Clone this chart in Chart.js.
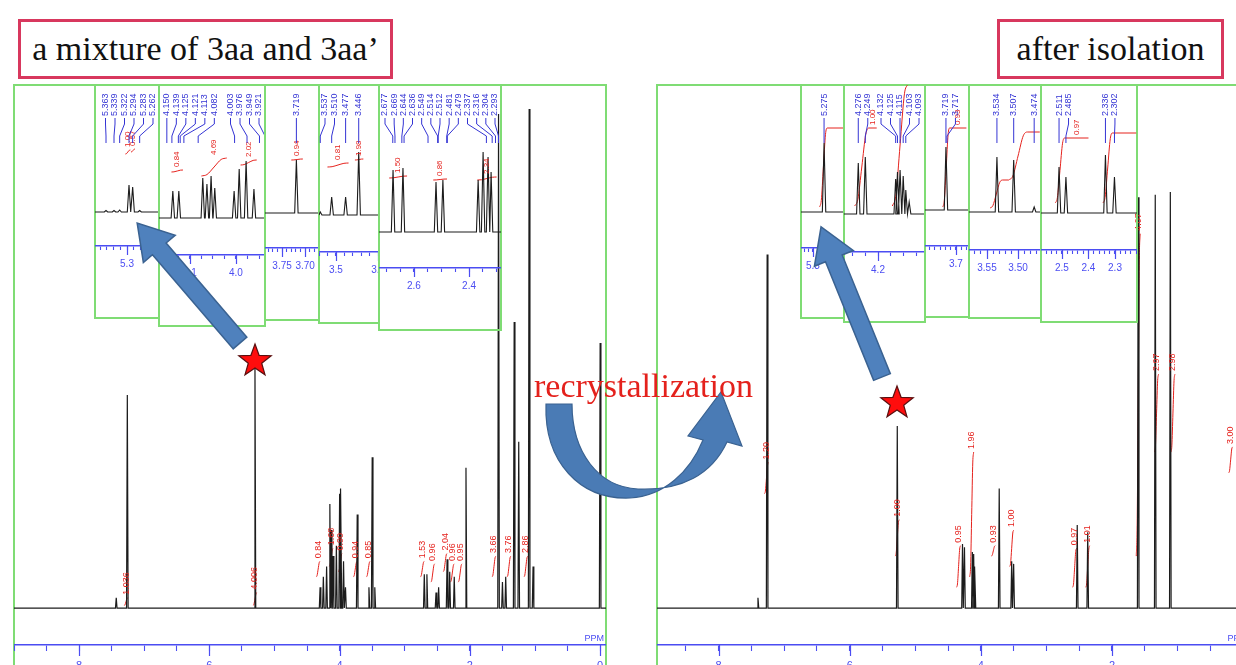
<!DOCTYPE html>
<html><head><meta charset="utf-8">
<script src="https://cdn.jsdelivr.net/npm/chart.js@4.4.1/dist/chart.umd.min.js"></script>
<style>
html,body{margin:0;padding:0;width:1236px;height:665px;overflow:hidden;background:#fff;position:relative;}
.abs{position:absolute;}
.frame{position:absolute;border:2px solid #7fdc74;box-sizing:border-box;}
.title{position:absolute;border:3px solid #d8385e;box-sizing:border-box;font-family:"Liberation Serif","DejaVu Serif",serif;font-size:34px;color:#111;display:flex;align-items:center;justify-content:center;background:#fff;white-space:nowrap;}
#recr{position:absolute;left:534px;top:369px;font-family:"Liberation Serif","DejaVu Serif",serif;font-size:34px;line-height:34px;color:#e4211c;white-space:nowrap;}
</style></head>
<body>
<script>
// ================= DATA =================
// Left spectrum (mixture of 3aa and 3aa'): peak positions (ppm) and relative heights
const leftPeakPpm    = [7.43, 7.26, 5.30, 4.30, 4.25, 4.20, 4.15, 4.13, 4.10, 4.05, 4.00, 3.98, 3.94, 3.91, 3.73, 3.55, 3.50, 3.46, 2.70, 2.66, 2.52, 2.48, 2.35, 2.31, 2.24, 2.06, 1.56, 1.50, 1.45, 1.32, 1.25, 1.09, 1.03, 0.00];
const leftPeakHeight = [2, 41, 47, 4, 6, 8, 20, 15, 10, 12, 22, 23, 9, 4, 18, 4, 29, 4, 6.5, 6.5, 3, 4, 9.4, 7, 6, 27, 95, 5, 6, 55, 32, 96, 8, 51];
// Left spectrum integrals
const leftIntPpm   = [7.28, 5.30, 4.33, 4.13, 3.99, 3.76, 3.56, 2.73, 2.57, 2.38, 2.27, 2.15, 1.63, 1.40, 1.14];
const leftIntLow   = [0.5, 0.5, 6, 8, 7, 6, 6, 6, 5, 7, 5, 5, 6, 6, 6];
const leftIntHigh  = [2, 3, 9, 11.5, 10.5, 9, 9, 9, 8.5, 10.5, 8.5, 8.5, 10, 10, 10];
const leftIntText  = ["1.036", "4.006", "0.84", "1.68", "0.90", "0.94", "0.85", "1.53", "0.96", "2.04", "0.96", "0.95", "3.66", "3.76", "2.86"];

// Right spectrum (after isolation)
const rightPeakPpm    = [7.40, 7.26, 5.275, 4.28, 4.25, 4.13, 4.11, 4.09, 3.72, 3.53, 3.50, 2.53, 2.37, 1.60, 1.34, 1.11];
const rightPeakHeight = [2, 68, 35, 12.3, 11.7, 10.8, 10.4, 8, 23, 9, 8.5, 16, 14.6, 79, 79.5, 80];
const rightIntPpm   = [7.27, 5.275, 4.34, 4.14, 3.81, 3.53, 2.57, 2.37, 1.60, 1.32, 1.07, 0.19];
const rightIntLow   = [22, 10, 4, 6, 10, 8, 4, 4, 10, 30, 30, 26];
const rightIntHigh  = [28, 17, 12, 30, 12, 15, 11.5, 12, 72, 45, 45, 31];
const rightIntText  = ["1.20", "1.00", "0.95", "1.96", "0.93", "1.00", "0.97", "1.01", "4.07", "2.97", "2.98", "3.00"];

// Insets: peaks [ppm, height], peak labels, integrals [from, to, low, high, label, flatTo]
const L1_peaks = [[5.363,1.5],[5.339,1.5],[5.322,2],[5.294,27],[5.283,25],[5.262,1.5]];
const L2_peaks = [[4.137,27],[4.124,27],[4.072,40],[4.063,34],[4.054,42],[4.046,30],[4.004,27],[3.993,49],[3.978,57],[3.961,29]];
const L3_peaks = [[3.719,53]];
const L4_peaks = [[3.537,3],[3.510,18],[3.477,18],[3.446,63]];
const L5_peaks = [[2.676,62],[2.640,64],[2.520,50],[2.495,52],[2.367,52],[2.349,80],[2.331,75],[2.320,60]];
const R1_peaks = [[5.275,69]];
const R2_peaks = [[4.276,51],[4.249,57],[4.132,35],[4.125,42],[4.115,44],[4.103,38],[4.093,24],[4.080,12]];
const R3_peaks = [[3.719,63]];
const R4_peaks = [[3.534,55],[3.507,52],[3.474,5]];
const R5_peaks = [[2.511,46],[2.485,36],[2.336,58],[2.302,36]];

const L1_labels = ["5.363","5.339","5.322","5.294","5.283","5.262"];
const L2_labels = ["4.150","4.139","4.125","4.121","4.113","4.082","4.003","3.976","3.949","3.921"];
const L3_labels = ["3.719"];
const L4_labels = ["3.537","3.510","3.477","3.446"];
const L5_labels = ["2.677","2.669","2.644","2.636","2.549","2.514","2.512","2.481","2.479","2.337","2.316","2.304","2.293"];
const R1_labels = ["5.275"];
const R2_labels = ["4.276","4.249","4.132","4.125","4.115","4.103","4.093"];
const R3_labels = ["3.719","3.717"];
const R4_labels = ["3.534","3.507","3.474"];
const R5_labels = ["2.511","2.485","2.336","2.302"];

const L1_int = [[5.305,5.290,58,62,"1.00",null],[5.288,5.276,60,63,"0.57",null]];
const L2_int = [[4.140,4.115,46,48,"0.84",null],[4.075,4.020,42,60,"4.69",null],[3.990,3.955,53,58,"2.02",null]];
const L3_int = [[3.730,3.705,53,54,"0.94",null]];
const L4_int = [[3.520,3.470,48,52,"0.81",null],[3.455,3.435,55,56,"1.98",null]];
const L5_int = [[2.690,2.625,54,56,"1.50",null],[2.530,2.480,52,53,"0.86",null],[2.370,2.300,52,55,"2.34",null]];
const R1_int = [[5.285,5.268,5,84,"",5.232]];
const R2_int = [[4.290,4.235,8,86,"1.00",4.205],[4.145,4.085,8,130,"",null]];
const R3_int = [[3.725,3.712,3,82,"0.93",3.680]];
const R4_int = [[3.545,3.525,4,32,"",3.515],[3.515,3.485,32,80,"",3.465]];
const R5_int = [[2.525,2.490,10,75,"0.97",2.400],[2.345,2.310,10,80,"",2.220]];

// ================= STYLE / LAYOUT =================
const BLUE = '#3434d4', AXIS_BLUE = '#4b4df2', RED = '#e5221d', GREEN = '#7fdc74', TRACE = '#1c1c1c';
const TOP = 85;
Chart.defaults.font.family = '"Liberation Sans", Arial, sans-serif';

const leftInsetBoxes = [
  {x0:94, x1:158, bottom:318, axis:246, base:212, hi:5.396, lo:5.204, minor:0.02, major:0.1},
  {x0:158,x1:264, bottom:326, axis:255, base:218, hi:4.167, lo:3.937, minor:0.025, major:0.1},
  {x0:264,x1:318, bottom:320, axis:248, base:213, hi:3.787, lo:3.670, minor:0.01, major:0.05},
  {x0:318,x1:378, bottom:323, axis:252, base:215, hi:3.540, lo:3.398, minor:0.02, major:0.1},
  {x0:378,x1:500, bottom:330, axis:268, base:232, hi:2.727, lo:2.284, minor:0.05, major:0.2}];
const rightInsetBoxes = [
  {x0:800, x1:843, bottom:318, axis:248, base:212, hi:5.327, lo:5.230, minor:0.01, major:0.1},
  {x0:843, x1:924, bottom:322, axis:252, base:214, hi:4.331, lo:4.019, minor:0.05, major:0.2},
  {x0:924, x1:968, bottom:317, axis:246, base:210, hi:3.759, lo:3.675, minor:0.01, major:0.1},
  {x0:968, x1:1040,bottom:318, axis:250, base:212, hi:3.579, lo:3.463, minor:0.01, major:0.05},
  {x0:1040,x1:1136,bottom:322, axis:250, base:213, hi:2.579, lo:2.217, minor:0.02, major:0.1}];

function isMult(v, m){ const r = v/m; return Math.abs(r - Math.round(r)) < 1e-6; }
function tickValues(lo, hi, step){ const out=[]; const s=Math.ceil(lo/step-1e-9), e=Math.floor(hi/step+1e-9); for(let k=s;k<=e;k++) out.push(+(k*step).toFixed(6)); return out; }
function decimalsFor(m){ return m < 0.1 - 1e-9 ? 2 : 1; }

function spectrumPoints(ppms, hs, w, xmin, xmax){
  const idx = ppms.map((p,i)=>i).sort((a,b)=>ppms[b]-ppms[a]);
  const pts=[{x:xmax,y:0}];
  idx.forEach(i=>{ pts.push({x:ppms[i]+w,y:0},{x:ppms[i],y:hs[i]},{x:ppms[i]-w,y:0}); });
  pts.push({x:xmin,y:0});
  return pts;
}
function integralPoints(from,to,low,high,flatTo){
  const d=from-to, r=high-low;
  const pts=[{x:from,y:low},{x:from-0.22*d,y:low+0.08*r},{x:from-0.5*d,y:low+0.5*r},{x:to+0.22*d,y:high-0.08*r},{x:to,y:high}];
  if(flatTo!=null) pts.push({x:flatTo,y:high});
  return pts;
}

const extras = {
  id:'extras',
  afterDraw(chart, args, o){
    const ctx=chart.ctx, ca=chart.chartArea, xs=chart.scales.x, ys=chart.scales.y;
    ctx.save();
    ctx.strokeStyle=AXIS_BLUE; ctx.lineWidth=1.2;
    xs.ticks.forEach(t=>{ if(isMult(t.value,o.major)){ const px=Math.round(xs.getPixelForValue(t.value))+0.5; ctx.beginPath(); ctx.moveTo(px,ca.bottom); ctx.lineTo(px,ca.bottom+o.majorLen); ctx.stroke(); }});
    if(o.ppm){ ctx.fillStyle=AXIS_BLUE; ctx.font='9px "Liberation Sans"'; ctx.textAlign='right'; ctx.textBaseline='bottom'; ctx.fillText('PPM', ca.right-2, ca.bottom-2); }
    ctx.fillStyle=RED; ctx.font=o.intFont;
    (o.intLabels||[]).forEach(l=>{
      const px=xs.getPixelForValue(l.v), py=ys.getPixelForValue(l.h)-3;
      ctx.save(); ctx.translate(px,py); ctx.rotate(-Math.PI/2); ctx.textAlign='left'; ctx.textBaseline='middle'; ctx.fillText(l.t,0,0); ctx.restore();
    });
    if(o.peakLabels && o.peakLabels.length){
      const L=o.peakLabels.map(t=>({t, v:parseFloat(t)}));
      L.forEach(l=>{ l.px=xs.getPixelForValue(Math.min(Math.max(l.v,xs.min),xs.max)); l.lx=l.px; });
      L.sort((a,b)=>a.px-b.px);
      const left=ca.left+6, right=ca.right-6;
      const gap = L.length>1 ? Math.min(9.5,(right-left)/(L.length-1)) : 9.5;
      for(let i=0;i<L.length;i++) L[i].lx=Math.max(L[i].lx, i?L[i-1].lx+gap:left);
      if(L[L.length-1].lx>right){ L[L.length-1].lx=right; for(let i=L.length-2;i>=0;i--) L[i].lx=Math.min(L[i].lx,L[i+1].lx-gap); }
      ctx.font='9px "Liberation Sans"'; ctx.fillStyle=BLUE; ctx.strokeStyle=BLUE; ctx.lineWidth=1;
      const b=o.labelBottom;
      L.forEach(l=>{
        ctx.save(); ctx.translate(l.lx,b); ctx.rotate(-Math.PI/2); ctx.textAlign='left'; ctx.textBaseline='middle'; ctx.fillText(l.t,0,0); ctx.restore();
        ctx.beginPath(); ctx.moveTo(l.lx,b+2); ctx.lineTo(l.lx,b+8); ctx.lineTo(l.px,b+20); ctx.lineTo(l.px,b+27); ctx.stroke();
      });
    }
    ctx.restore();
  }
};

function buildChart(canvas, g){
  return new Chart(canvas, {
    type:'line',
    data:{datasets:g.datasets},
    options:{
      responsive:false, animation:false, events:[], devicePixelRatio:1,
      layout:{padding:0},
      plugins:{legend:{display:false}, tooltip:{enabled:false}, extras:g.extras},
      scales:{
        x:{type:'linear', reverse:true, min:g.min, max:g.max,
           afterBuildTicks:s=>{ s.ticks=tickValues(g.min,g.max,g.minor).map(v=>({value:v})); },
           afterFit:s=>{ s.height=g.axisH; },
           ticks:{autoSkip:false, maxRotation:0, minRotation:0, includeBounds:false, color:AXIS_BLUE, padding:g.pad, font:{size:g.fontSize},
                  callback:v=> isMult(v,g.major) ? (g.fmt ? g.fmt(v) : Number(v).toFixed(decimalsFor(g.major))) : ''},
           grid:{display:true, drawOnChartArea:false, drawTicks:true, tickLength:g.minorLen, color:AXIS_BLUE, tickColor:AXIS_BLUE, tickWidth:1.1},
           border:{display:true, color:AXIS_BLUE, width:1.6}},
        y:{display:false, min:g.ymin, max:g.ymax}
      }
    },
    plugins:[extras]
  });
}

function addEl(tag, cls, style){ const e=document.createElement(tag); if(cls) e.className=cls; Object.assign(e.style,style||{}); document.body.appendChild(e); return e; }

addEl('div','frame',{left:'13px',top:(TOP-1)+'px',width:'594px',height:'700px'});
addEl('div','frame',{left:'656px',top:(TOP-1)+'px',width:'700px',height:'700px'});

function mainSpectrum(left, xmax, ppms, hs, iP, iLo, iHi, iTxt){
  const W=592, H=600, xmin=-0.09;
  const cv=addEl('canvas','abs',{left:left+'px',top:TOP+'px'}); cv.width=W; cv.height=H;
  const ds=[{data:spectrumPoints(ppms,hs,0.012,xmin,xmax), borderColor:TRACE, borderWidth:1.2, pointRadius:0, tension:0, fill:false}];
  iP.forEach((p,i)=>ds.push({data:integralPoints(p+0.03,p-0.03,iLo[i],iHi[i],null), borderColor:RED, borderWidth:1, pointRadius:0, cubicInterpolationMode:'monotone', fill:false}));
  buildChart(cv,{datasets:ds, min:xmin, max:xmax, minor:0.5, major:2, axisH:40, ymin:-7.1, ymax:100.6, pad:8, fontSize:11, minorLen:6, fmt:v=>String(Math.round(v)),
    extras:{major:2, majorLen:11, ppm:true, intFont:'9px "Liberation Sans"', intLabels:iP.map((p,i)=>({t:iTxt[i], v:p, h:iHi[i]}))}});
}
mainSpectrum(14, 9.0, leftPeakPpm, leftPeakHeight, leftIntPpm, leftIntLow, leftIntHigh, leftIntText);
mainSpectrum(657, 8.94, rightPeakPpm, rightPeakHeight, rightIntPpm, rightIntLow, rightIntHigh, rightIntText);

function inset(box, peaks, labels, integrals){
  addEl('div','frame',{left:box.x0+'px',top:(TOP-1)+'px',width:(box.x1-box.x0+2)+'px',height:(box.bottom-TOP+2)+'px'});
  const W=box.x1-box.x0, H=box.bottom-TOP;
  const cv=addEl('canvas','abs',{left:(box.x0+1)+'px',top:TOP+'px'}); cv.width=W; cv.height=H;
  const w=1.7/(W/(box.hi-box.lo));
  const ds=[{data:spectrumPoints(peaks.map(p=>p[0]),peaks.map(p=>p[1]),w,box.lo,box.hi), borderColor:TRACE, borderWidth:1.1, pointRadius:0, tension:0, fill:false}];
  integrals.forEach(it=>ds.push({data:integralPoints(it[0],it[1],it[2],it[3],it[5]), borderColor:RED, borderWidth:1, pointRadius:0, cubicInterpolationMode:'monotone', fill:false}));
  const intLabels=integrals.filter(it=>it[4]).map(it=>({t:it[4], v: it[5]!=null ? (it[1]+it[5])/2 : (it[0]+it[1])/2, h:it[3]}));
  buildChart(cv,{datasets:ds, min:box.lo, max:box.hi, minor:box.minor, major:box.major, axisH:box.bottom-box.axis,
    ymin:-(box.axis-box.base), ymax:box.base-TOP, pad:8, fontSize:10, minorLen:4,
    extras:{major:box.major, majorLen:9, intFont:'8px "Liberation Sans"', intLabels, peakLabels:labels, labelBottom:31}});
}
inset(leftInsetBoxes[0], L1_peaks, L1_labels, L1_int);
inset(leftInsetBoxes[1], L2_peaks, L2_labels, L2_int);
inset(leftInsetBoxes[2], L3_peaks, L3_labels, L3_int);
inset(leftInsetBoxes[3], L4_peaks, L4_labels, L4_int);
inset(leftInsetBoxes[4], L5_peaks, L5_labels, L5_int);
inset(rightInsetBoxes[0], R1_peaks, R1_labels, R1_int);
inset(rightInsetBoxes[1], R2_peaks, R2_labels, R2_int);
inset(rightInsetBoxes[2], R3_peaks, R3_labels, R3_int);
inset(rightInsetBoxes[3], R4_peaks, R4_labels, R4_int);
inset(rightInsetBoxes[4], R5_peaks, R5_labels, R5_int);

function starPts(cx,cy,R,r){ const p=[]; for(let k=0;k<10;k++){ const a=-Math.PI/2+k*Math.PI/5, rr=k%2?r:R; p.push((cx+rr*Math.cos(a)).toFixed(1)+','+(cy+rr*Math.sin(a)).toFixed(1)); } return p.join(' '); }
function arrowPath(L){ const hw=9, HW=21, HL=34; return `M0,${-hw} L${L-HL},${-hw} L${L-HL},${-HW} L${L},0 L${L-HL},${HW} L${L-HL},${hw} L0,${hw} Z`; }
const svgNS='http://www.w3.org/2000/svg';
const svg=document.createElementNS(svgNS,'svg'); svg.setAttribute('width','1236'); svg.setAttribute('height','665');
svg.setAttribute('style','position:absolute;left:0;top:0;');
svg.innerHTML = `
 <g transform="translate(240,343) rotate(-130.6)"><path d="${arrowPath(158)}" fill="#4f81bd" stroke="#3a6291" stroke-width="1.5"/></g>
 <g transform="translate(882,377) rotate(-112.1)"><path d="${arrowPath(162)}" fill="#4f81bd" stroke="#3a6291" stroke-width="1.5"/></g>
 <polygon points="${starPts(255,361,17,7)}" fill="#ff0d0d" stroke="#5a1010" stroke-width="1.2"/>
 <polygon points="${starPts(897,403,17,7)}" fill="#ff0d0d" stroke="#5a1010" stroke-width="1.2"/>
 <path d="M546,404 C544,462 580,500 630,498 C664,496 690,472 703,440 L688,436 L721,392 L742,446 L727,442 C712,474 682,491 638,489 C598,487 572,452 572,404 Z" fill="#4a7bb5" stroke="#3a6291" stroke-width="1.2"/>`;
document.body.appendChild(svg);

const t1=addEl('div','title',{left:'18px',top:'19px',width:'375px',height:'60px'}); t1.textContent='a mixture of 3aa and 3aa\u2019';
const t2=addEl('div','title',{left:'997px',top:'19px',width:'227px',height:'60px'}); t2.textContent='after isolation';
const rc=addEl('div',null,{}); rc.id='recr'; rc.textContent='recrystallization';
</script>
</body></html>
